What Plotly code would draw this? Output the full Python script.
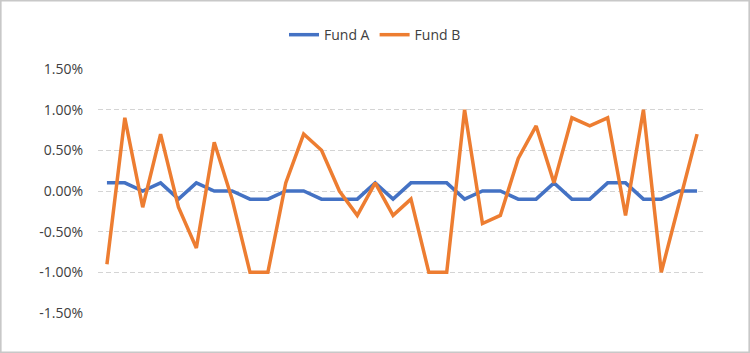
import plotly.graph_objects as go

periods = list(range(1, 35))
fund_a = [0.1, 0.1, 0.0, 0.1, -0.1, 0.1, 0.0, 0.0, -0.1, -0.1,
          0.0, 0.0, -0.1, -0.1, -0.1, 0.1, -0.1, 0.1, 0.1, 0.1,
          -0.1, 0.0, 0.0, -0.1, -0.1, 0.1, -0.1, -0.1, 0.1, 0.1,
          -0.1, -0.1, 0.0, 0.0]
fund_b = [-0.9, 0.9, -0.2, 0.7, -0.2, -0.7, 0.6, -0.1, -1.0, -1.0,
          0.1, 0.7, 0.5, 0.0, -0.3, 0.1, -0.3, -0.1, -1.0, -1.0,
          1.0, -0.4, -0.3, 0.4, 0.8, 0.1, 0.9, 0.8, 0.9, -0.3,
          1.0, -1.0, -0.15, 0.7]
tick_vals = [-1.5, -1.0, -0.5, 0.0, 0.5, 1.0, 1.5]
tick_text = ["-1.50%", "-1.00%", "-0.50%", "0.00%", "0.50%", "1.00%", "1.50%"]

fig = go.Figure()
fig.add_trace(go.Scatter(x=periods, y=fund_a, mode="lines", name="Fund A",
                         line=dict(color="#4472C4", width=3.5)))
fig.add_trace(go.Scatter(x=periods, y=fund_b, mode="lines", name="Fund B",
                         line=dict(color="#ED7D31", width=3.5)))

fig.update_layout(
    width=750, height=353,
    margin=dict(l=98, r=44, t=69, b=40),
    paper_bgcolor="white", plot_bgcolor="white",
    font=dict(family="Open Sans, sans-serif", size=13, color="#404040"),
    showlegend=True,
    legend=dict(orientation="h", x=0.4556, xanchor="center", y=1.139, yanchor="middle",
                font=dict(size=14, color="#404040"), itemwidth=30,
                tracegroupgap=0),
    xaxis=dict(range=[0.5, 34.5], showgrid=False, showticklabels=False,
               zeroline=False, showline=False, ticks=""),
    yaxis=dict(range=[-1.5, 1.5], tickvals=tick_vals, ticktext=tick_text,
               showgrid=True, gridcolor="#d4d4d4", griddash="5px,3px", gridwidth=1,
               zeroline=False, showline=False, ticks="", ticklabelstandoff=14,
               tickfont=dict(size=14, color="#404040")),
    shapes=[dict(type="rect", xref="paper", yref="paper",
                 x0=-98/608 + 0.001, x1=1 + 44/608 - 0.001,
                 y0=-40/244 + 0.002, y1=1 + 69/244 - 0.002,
                 line=dict(color="#c8c8c8", width=2), fillcolor="rgba(0,0,0,0)",
                 layer="below")],
)

fig.write_html("out.html")
